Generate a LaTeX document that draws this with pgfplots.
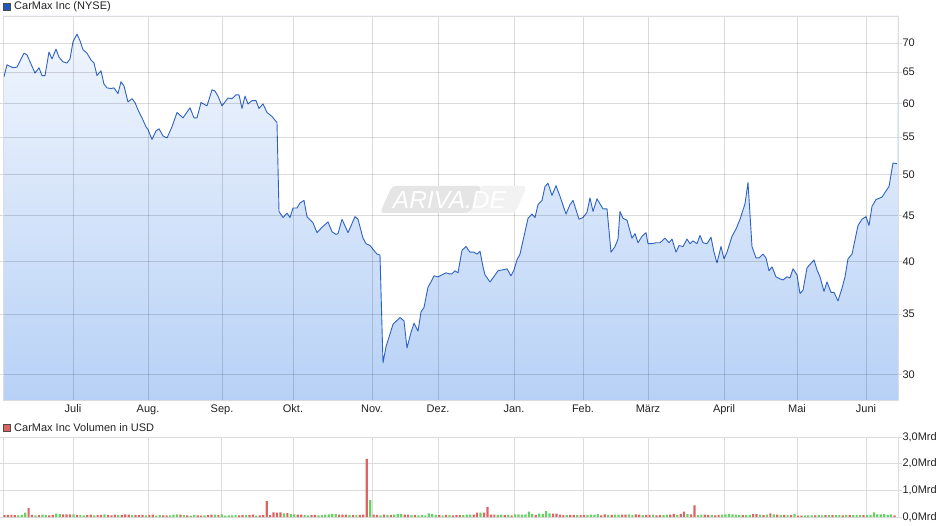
\documentclass[border=0pt]{standalone}
\usepackage{pgfplots}
\pgfplotsset{compat=1.18}
\usepackage{fontspec}
\setmainfont{Liberation Sans}
\definecolor{gridc}{HTML}{DCDCDC}
\definecolor{linec}{HTML}{2E62C4}
\definecolor{filltop}{HTML}{F3F7FE}
\definecolor{fillbot}{HTML}{B7D1F6}
\definecolor{volred}{HTML}{DD6464}
\definecolor{volgreen}{HTML}{66D266}
\definecolor{txt}{HTML}{222222}
\definecolor{legblue}{HTML}{2057B8}

% volume per trading day (Mrd USD): red = down day, green = up day
\pgfplotstableread{
k r g
0 0.07 nan
1 0.08 nan
2 0.08 nan
3 0.07 nan
4 nan 0.06
5 nan 0.08
6 nan 0.16
7 0.34 nan
8 0.08 nan
9 nan 0.06
10 0.07 nan
11 nan 0.09
12 nan 0.08
13 0.06 nan
14 0.08 nan
15 nan 0.13
16 nan 0.11
17 0.10 nan
18 0.10 nan
19 0.10 nan
20 nan 0.10
21 0.08 nan
22 nan 0.07
23 nan 0.06
24 0.07 nan
25 0.09 nan
26 nan 0.06
27 0.07 nan
28 0.08 nan
29 nan 0.10
30 0.08 nan
31 0.06 nan
32 0.09 nan
33 nan 0.07
34 0.07 nan
35 0.10 nan
36 0.09 nan
37 nan 0.07
38 0.08 nan
39 0.07 nan
40 0.08 nan
41 nan 0.06
42 0.08 nan
43 0.09 nan
44 nan 0.05
45 nan 0.07
46 0.06 nan
47 0.06 nan
48 nan 0.06
49 nan 0.09
50 nan 0.10
51 0.09 nan
52 nan 0.07
53 0.06 nan
54 nan 0.05
55 nan 0.08
56 0.06 nan
57 0.05 nan
58 nan 0.06
59 0.07 nan
60 0.09 nan
61 nan 0.09
62 0.07 nan
63 nan 0.10
64 nan 0.05
65 nan 0.06
66 nan 0.06
67 nan 0.08
68 0.06 nan
69 0.07 nan
70 nan 0.07
71 0.08 nan
72 0.09 nan
73 nan 0.05
74 0.06 nan
75 0.07 nan
76 0.60 nan
77 0.07 nan
78 0.17 nan
79 0.16 nan
80 0.17 nan
81 nan 0.14
82 0.15 nan
83 nan 0.11
84 nan 0.10
85 0.09 nan
86 0.09 nan
87 nan 0.07
88 nan 0.06
89 0.07 nan
90 0.08 nan
91 nan 0.06
92 nan 0.08
93 nan 0.09
94 nan 0.10
95 nan 0.12
96 nan 0.11
97 0.09 nan
98 0.09 nan
99 0.09 nan
100 nan 0.08
101 0.07 nan
102 nan 0.08
103 0.08 nan
104 0.09 nan
105 2.18 nan
106 nan 0.63
107 0.09 nan
108 0.08 nan
109 nan 0.06
110 0.09 nan
111 nan 0.08
112 0.08 nan
113 nan 0.09
114 nan 0.12
115 nan 0.11
116 0.09 nan
117 0.09 nan
118 nan 0.07
119 0.07 nan
120 nan 0.06
121 nan 0.07
122 nan 0.06
123 nan 0.14
124 nan 0.12
125 nan 0.08
126 0.07 nan
127 nan 0.06
128 0.08 nan
129 nan 0.07
130 0.06 nan
131 0.07 nan
132 0.07 nan
133 nan 0.07
134 nan 0.09
135 nan 0.09
136 0.09 nan
137 0.16 nan
138 nan 0.16
139 0.16 nan
140 0.38 nan
141 0.09 nan
142 0.09 nan
143 nan 0.08
144 nan 0.09
145 0.07 nan
146 nan 0.08
147 0.06 nan
148 nan 0.10
149 nan 0.10
150 nan 0.09
151 nan 0.10
152 nan 0.20
153 nan 0.12
154 0.08 nan
155 nan 0.13
156 nan 0.12
157 nan 0.22
158 nan 0.14
159 0.13 nan
160 0.13 nan
161 0.09 nan
162 0.08 nan
163 nan 0.07
164 0.08 nan
165 0.08 nan
166 nan 0.07
167 0.08 nan
168 0.08 nan
169 nan 0.07
170 nan 0.09
171 nan 0.09
172 nan 0.11
173 0.06 nan
174 0.10 nan
175 nan 0.08
176 0.08 nan
177 nan 0.09
178 nan 0.09
179 0.09 nan
180 0.09 nan
181 nan 0.10
182 nan 0.08
183 0.10 nan
184 0.09 nan
185 nan 0.07
186 0.08 nan
187 0.08 nan
188 nan 0.09
189 0.06 nan
190 0.07 nan
191 nan 0.08
192 nan 0.09
193 0.09 nan
194 0.12 nan
195 nan 0.08
196 0.12 nan
197 0.20 nan
198 nan 0.12
199 0.10 nan
200 0.44 nan
201 nan 0.07
202 nan 0.09
203 0.09 nan
204 0.08 nan
205 nan 0.08
206 0.06 nan
207 0.08 nan
208 nan 0.09
209 nan 0.10
210 nan 0.12
211 nan 0.10
212 nan 0.09
213 nan 0.08
214 0.07 nan
215 nan 0.07
216 nan 0.08
217 0.11 nan
218 0.11 nan
219 nan 0.09
220 0.07 nan
221 nan 0.09
222 0.14 nan
223 nan 0.10
224 0.09 nan
225 nan 0.08
226 0.08 nan
227 nan 0.07
228 0.07 nan
229 nan 0.12
230 0.05 nan
231 0.05 nan
232 nan 0.06
233 nan 0.06
234 nan 0.06
235 0.06 nan
236 nan 0.07
237 nan 0.06
238 0.07 nan
239 nan 0.07
240 0.07 nan
241 nan 0.07
242 nan 0.07
243 0.06 nan
244 nan 0.08
245 0.07 nan
246 nan 0.07
247 nan 0.08
248 nan 0.07
249 0.07 nan
250 nan 0.07
251 nan 0.08
252 nan 0.17
253 nan 0.10
254 nan 0.10
255 nan 0.11
256 nan 0.08
257 nan 0.10
258 0.06 nan
}\vol

% closing price, x = position along the time axis
\pgfplotstableread{
x p
4 64.2
7 66.2
13 65.7
17 65.8
24 68.2
27 67.9
35 64.8
39 65.7
42 64.4
45 64.4
49 68.4
52 67.2
56 68.9
59 67.5
63 66.7
67 66.5
70 67.2
73 70.2
77 71.6
80 70.4
83 68.8
87 68.2
91 67.0
94 66.5
97 64.4
101 65.2
104 63.0
107 62.4
111 62.3
114 62.4
118 61.5
121 63.4
124 62.7
128 60.2
132 60.7
135 60.1
138 59.0
142 57.8
146 56.5
148 56.1
152 54.7
156 55.9
159 56.2
163 55.2
167 54.9
172 56.5
177 58.6
183 57.8
190 59.3
194 57.8
197 57.8
201 60.1
207 59.6
212 62.1
215 61.9
218 61.1
222 59.6
228 60.8
232 60.7
236 61.3
239 61.3
242 59.2
245 61.1
248 59.9
252 60.4
256 60.4
259 59.2
263 59.9
267 58.6
272 58.0
277 57.1
279 45.5
283 44.8
287 45.3
290 44.8
293 45.9
297 45.9
300 46.5
304 46.8
307 44.9
313 44.2
317 43.1
322 43.7
328 44.3
332 43.2
336 42.9
338 43.0
342 44.6
348 43.1
355 44.9
358 44.6
363 42.5
366 41.9
370 41.7
377 40.8
380 40.7
383 30.9
386 32.2
393 34.1
400 34.7
404 34.4
407 32.1
411 33.4
414 34.2
418 33.5
421 35.2
424 35.6
428 37.5
431 38.0
434 38.6
438 38.5
442 38.7
446 38.9
449 38.8
452 38.8
455 39.1
458 38.9
462 41.2
466 41.6
470 41.0
474 41.0
477 40.8
480 41.1
483 39.5
485 38.7
490 38.0
493 38.4
498 39.1
503 39.2
507 39.3
511 38.6
514 39.2
517 40.2
520 40.8
525 43.2
528 44.7
532 45.2
535 44.8
538 46.3
542 46.8
545 48.5
548 48.9
552 47.4
556 48.6
560 47.3
566 45.2
570 46.3
573 46.8
579 44.6
583 44.8
587 45.4
590 47.1
593 45.5
597 47.0
603 45.8
607 45.8
611 41.0
615 41.6
618 42.4
620 45.5
623 44.7
627 44.5
632 42.5
635 43.0
638 42.0
642 42.7
646 43.1
648 41.9
652 41.9
656 42.0
660 42.0
665 42.5
669 42.0
672 42.4
676 41.0
679 41.7
683 41.6
687 42.4
690 41.9
693 42.2
697 41.9
700 42.8
703 42.0
707 41.9
711 42.6
714 41.0
717 39.9
721 41.6
724 40.3
727 41.0
732 42.7
736 43.5
740 44.6
745 46.4
748 49.0
752 41.6
756 40.4
759 40.4
763 40.8
766 40.4
769 39.1
772 39.5
776 38.5
780 38.3
783 38.2
787 38.5
790 38.4
793 39.3
797 38.7
800 36.9
803 37.2
807 39.4
814 40.2
817 39.2
820 38.5
824 37.1
827 38.0
831 37.0
834 37.0
838 36.2
842 37.4
845 38.5
848 40.3
852 40.8
858 43.9
862 44.6
866 44.9
869 43.9
872 46.1
876 46.9
882 47.2
889 48.5
893 51.5
897 51.4
}\price

\begin{document}
\begin{tikzpicture}
\tikzset{lbl/.style={font=\fontsize{11}{13}\selectfont, text=txt, inner sep=0pt, anchor=west}}
\useasboundingbox (0pt,0pt) rectangle (940pt,-526pt);
% legends
\filldraw[fill=legblue, draw=black!70, line width=0.5pt] (3.5pt,-3pt) rectangle (10.5pt,-10pt);
\node[lbl] at (14pt,-6.5pt) {CarMax Inc (NYSE)};
\filldraw[fill=volred, draw=black!70, line width=0.5pt] (3.5pt,-424.5pt) rectangle (10.5pt,-431.5pt);
\node[lbl] at (14pt,-428pt) {CarMax Inc Volumen in USD};

\begin{axis}[
  at={(3pt,-400pt)}, anchor=south west, scale only axis,
  width=895pt, height=384pt,
  xmin=3, xmax=898, ymode=log, ymin=28.1, ymax=75,
  axis background/.style={top color=filltop, bottom color=fillbot},
  axis on top,
  axis line style={gridc},
  grid=major, grid style={black, opacity=0.14, line width=0.7pt},
  xtick={73,148,222,293,372,438,514,583,648,724,797,866},
  xticklabels={Juli,Aug.,Sep.,Okt.,Nov.,Dez.,Jan.,Feb.,März,April,Mai,Juni},
  ytick={30,35,40,45,50,55,60,65,70},
  yticklabels={30,35,40,45,50,55,60,65,70},
  yticklabel pos=right,
  tick align=outside, major tick length=4pt,
  tick style={gridc, line width=0.7pt},
  xtick style={draw=none},
  ticklabel style={font=\fontsize{11}{13}\selectfont, text=txt},
  yticklabel style={xshift=-3pt},
  xticklabel style={yshift=3pt},
]
% white above the price line, so the gradient stays below it
\addplot[fill=white, draw=none] table[x=x, y=p] {\price} -- (axis cs:897,75) -- (axis cs:4,75) -- cycle;
\addplot[linec, line width=0.9pt, line join=round] table[x=x, y=p] {\price};
\end{axis}

% watermark
\fill[black!10, rounded corners=4pt] (380pt,-213pt) -- (392pt,-186pt) -- (482pt,-186pt) -- (470pt,-213pt) -- cycle;
\fill[black!5, rounded corners=4pt] (472pt,-213pt) -- (484pt,-186pt) -- (527pt,-186pt) -- (515pt,-213pt) -- cycle;
\fill[black!5] (470pt,-213pt) -- (482pt,-186pt) -- (490pt,-186pt) -- (478pt,-213pt) -- cycle;
\node[inner sep=0pt, text=white, font=\fontsize{24.5}{26}\selectfont\itshape] at (449.5pt,-200pt) {ARIVA.DE};

\begin{axis}[
  at={(3pt,-517pt)}, anchor=south west, scale only axis,
  width=895pt, height=80pt,
  xmin=-0.43, xmax=259, ymin=0, ymax=3,
  axis line style={gridc},
  grid=major, grid style={gridc, line width=0.7pt},
  xtick={19.9,41.6,63.0,83.6,106.5,125.7,147.7,167.7,186.5,208.6,229.7,249.7},
  xticklabels={},
  ytick={0,1,2,3},
  yticklabels={{0,0Mrd},{1,0Mrd},{2,0Mrd},{3,0Mrd}},
  yticklabel pos=right,
  tick align=outside, major tick length=4pt,
  tick style={gridc, line width=0.7pt},
  xtick style={draw=none},
  ticklabel style={font=\fontsize{11}{13}\selectfont, text=txt},
  yticklabel style={xshift=-3pt},
]
\addplot[ybar, bar shift=0pt, bar width=2.2pt, fill=volred, draw=none] table[x=k, y=r] {\vol};
\addplot[ybar, bar shift=0pt, bar width=2.2pt, fill=volgreen, draw=none] table[x=k, y=g] {\vol};
\end{axis}
\end{tikzpicture}
\end{document}
